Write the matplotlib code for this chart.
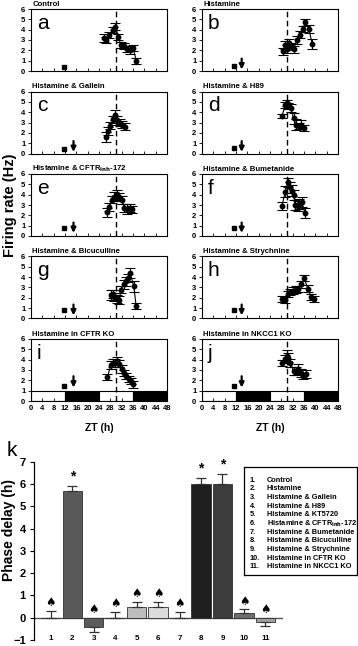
import matplotlib
matplotlib.use("Agg")
import matplotlib.pyplot as plt
import numpy as np

plt.rcParams['font.family'] = ['Liberation Sans', 'DejaVu Sans']
plt.rcParams['font.weight'] = 'bold'

# ---------------- time-series data (ZT hours, firing rate Hz, SEM) -------------
titles = ["Control", "Histamine", "Histamine & Gallein", "Histamine & H89",
          r"Histamine & CFTR$_{\mathbf{inh}}$-172", "Histamine & Bumetanide",
          "Histamine & Bicuculline", "Histamine & Strychnine",
          "Histamine in CFTR KO", "Histamine in NKCC1 KO"]
letters = ["a", "b", "c", "d", "e", "f", "g", "h", "i", "j"]

a_x = [25.8, 26.5, 27.5, 29.0, 29.8, 30.8, 31.8, 33.0, 34.0, 35.0, 36.0, 37.2]
a_y = [3.2, 3.0, 3.5, 4.0, 4.3, 3.3, 2.5, 2.4, 2.1, 2.0, 2.2, 1.0]
a_e = [0.4, 0.3, 0.3, 0.3, 0.3, 0.3, 0.3, 0.3, 0.3, 0.4, 0.3, 0.3]

b_x = [28.6, 29.4, 30.0, 30.8, 31.5, 32.3, 33.5, 34.7, 35.5, 36.5, 37.7, 38.9]
b_y = [1.9, 2.5, 2.1, 2.7, 2.4, 2.1, 3.0, 3.5, 4.1, 4.7, 4.1, 2.6]
b_e = [0.35, 0.4, 0.4, 0.4, 0.35, 0.35, 0.35, 0.35, 0.3, 0.3, 0.4, 0.5]

c_x = [26.5, 27.2, 28.0, 29.0, 29.8, 30.5, 31.3, 32.2, 33.2]
c_y = [1.6, 2.2, 2.7, 3.3, 3.7, 3.2, 3.0, 2.8, 2.6]
c_e = [0.45, 0.4, 0.35, 0.35, 0.5, 0.4, 0.35, 0.35, 0.35]

d_x = [28.2, 29.4, 30.0, 30.5, 31.4, 32.3, 33.2, 34.1, 35.0, 36.1]
d_y = [3.6, 4.7, 4.9, 4.6, 4.4, 3.4, 2.8, 2.7, 2.8, 2.5]
d_e = [0.2, 0.3, 0.3, 0.3, 0.4, 0.5, 0.5, 0.3, 0.4, 0.3]

e_x = [27.0, 27.6, 28.6, 29.4, 30.2, 31.0, 32.0, 33.0, 34.0, 34.8, 35.6]
e_y = [2.3, 2.8, 3.5, 3.8, 4.0, 3.8, 3.5, 2.7, 2.6, 2.7, 2.6]
e_e = [0.45, 0.4, 0.35, 0.45, 0.5, 0.4, 0.4, 0.4, 0.5, 0.4, 0.35]

f_x = [28.2, 29.4, 30.2, 31.2, 31.8, 32.3, 32.9, 33.8, 34.4, 35.2, 36.4]
f_y = [2.9, 4.3, 5.2, 4.7, 4.4, 4.0, 3.0, 2.9, 3.1, 3.3, 2.2]
f_e = [0.4, 0.5, 0.45, 0.5, 0.5, 0.5, 0.5, 0.5, 0.5, 0.5, 0.5]

g_x = [28.2, 28.8, 29.4, 30.3, 31.2, 31.8, 32.7, 33.5, 34.4, 35.0, 36.3, 37.1]
g_y = [2.3, 2.4, 2.1, 1.9, 1.8, 2.8, 3.3, 3.6, 3.9, 4.4, 3.1, 1.2]
g_e = [0.5, 0.4, 0.4, 0.4, 0.35, 0.35, 0.4, 0.45, 0.4, 0.45, 0.55, 0.3]

h_x = [28.4, 29.3, 30.2, 31.2, 32.0, 33.2, 34.0, 35.0, 36.1, 37.3, 38.5, 39.5]
h_y = [1.9, 1.8, 2.4, 2.6, 2.7, 2.8, 2.85, 3.3, 3.9, 2.9, 2.1, 1.9]
h_e = [0.3, 0.3, 0.3, 0.3, 0.3, 0.3, 0.3, 0.35, 0.3, 0.3, 0.3, 0.3]

i_x = [27.0, 28.2, 29.0, 29.7, 30.3, 31.1, 32.0, 32.9, 33.6, 34.5, 35.3, 35.9]
i_y = [2.35, 3.5, 3.7, 3.7, 3.9, 3.6, 3.1, 2.7, 2.4, 2.1, 1.9, 1.6]
i_e = [0.3, 0.4, 0.4, 0.4, 0.4, 0.35, 0.35, 0.3, 0.3, 0.3, 0.3, 0.3]

j_x = [28.2, 29.3, 30.0, 30.5, 31.2, 32.3, 33.2, 34.0, 35.0, 35.8, 36.7]
j_y = [3.7, 4.1, 4.4, 4.2, 3.7, 2.9, 2.9, 3.1, 2.7, 2.4, 2.6]
j_e = [0.3, 0.4, 0.5, 0.4, 0.4, 0.4, 0.4, 0.5, 0.4, 0.3, 0.4]

series_x = [a_x, b_x, c_x, d_x, e_x, f_x, g_x, h_x, i_x, j_x]
series_y = [a_y, b_y, c_y, d_y, e_y, f_y, g_y, h_y, i_y, j_y]
series_e = [a_e, b_e, c_e, d_e, e_e, f_e, g_e, h_e, i_e, j_e]

square_x = [11.6, 11.3, 11.6, 11.3, 11.6, 11.3, 11.6, 11.3, 11.6, 11.3]
square_y = [0.4, 0.5, 0.4, 0.5, 0.75, 0.75, 0.8, 0.8, 1.5, 1.5]
arrow_x = [None, 14.0, 15.0, 14.0, 15.0, 14.0, 15.0, 14.0, 15.0, 14.0]
arrow_top = [None, 1.2, 1.2, 1.2, 1.3, 1.3, 1.35, 1.35, 2.4, 2.4]
arrow_bot = [None, 0.15, 0.15, 0.15, 0.3, 0.3, 0.3, 0.3, 1.3, 1.3]

phase_ref = 30
ld_starts = [0, 12, 24, 36]
ld_width = 12
ld_colors = ["white", "black", "white", "black"]

# ---------------- bar chart data ------------------------------------------------
bar_cats = ["1", "2", "3", "4", "5", "6", "7", "8", "9", "10", "11"]
bar_vals = [0.0, 5.69, -0.40, 0.0, 0.49, 0.49, 0.0, 6.02, 6.02, 0.19, -0.21]
bar_errs = [0.30, 0.20, 0.26, 0.27, 0.23, 0.23, 0.27, 0.26, 0.41, 0.18, 0.16]
bar_cols = ["#808080", "#595959", "#5c5c5c", "#808080", "#bdbdbd", "#dcdcdc",
            "#808080", "#1e1e1e", "#3c3c3c", "#6e6e6e", "#a0a0a0"]
bar_sig = ["spade", "star", "spade", "spade", "spade", "spade", "spade",
           "star", "star", "spade", "spade"]
legend_items = ["Control", "Histamine", "Histamine & Gallein", "Histamine & H89",
                "Histamine & KT5720", r"Histamine & CFTR$_{\mathbf{inh}}$-172",
                "Histamine & Bumetanide", "Histamine & Bicuculline",
                "Histamine & Strychnine", "Histamine in CFTR KO",
                "Histamine in NKCC1 KO"]

W, H = 358, 646
fig = plt.figure(figsize=(W / 100, H / 100), dpi=100)

def fx(px):
    return px / W

def fy(py):
    return 1 - py / H

tops = [9, 91.5, 174, 256.5, 339]
ph = 62
lefts = [31, 202]
pw = 136

for k in range(10):
    row, col = k // 2, k % 2
    top = tops[row]
    ax = fig.add_axes([fx(lefts[col]), fy(top + ph), pw / W, ph / H])
    ax.set_xlim(0, 48)
    ax.set_ylim(0, 6)
    if row == 4:
        ax.bar(ld_starts, [1] * 4, width=ld_width, align='edge', color=ld_colors,
               edgecolor='black', linewidth=0.8, zorder=1)
    ax.axvline(phase_ref, color='black', ls=(0, (4, 2.5)), lw=1.0, zorder=2)
    ax.errorbar(series_x[k], series_y[k], yerr=series_e[k], fmt='-o', color='black',
                ms=3.2, lw=0.8, elinewidth=0.8, capsize=3.5, capthick=0.8, zorder=4)
    ax.plot([square_x[k]], [square_y[k]], 's', color='black', ms=2.3, zorder=4)
    if arrow_x[k] is not None:
        ax.annotate('', xy=(arrow_x[k], arrow_bot[k]), xytext=(arrow_x[k], arrow_top[k]),
                    arrowprops=dict(arrowstyle='-|>', color='black', lw=1.6,
                                    mutation_scale=7, shrinkA=0, shrinkB=0))
    ax.text(2.0, 5.55, letters[k], fontsize=15, fontweight='normal', va='top', ha='left')
    ax.set_title(titles[k], loc='left', fontsize=5.6, fontweight='bold', pad=2.5, x=0.01)
    ax.set_yticks(range(0, 7))
    ax.set_xticks(range(0, 49, 4))
    ax.tick_params(axis='y', direction='out', length=2, width=0.6, labelsize=5.5, pad=2)
    ax.tick_params(axis='x', direction='in', length=2, width=0.6, labelsize=5.5, pad=3)
    for lab in ax.get_yticklabels() + ax.get_xticklabels():
        lab.set_fontweight('bold')
    if row != 4:
        ax.set_xticklabels([])
    for s in ax.spines.values():
        s.set_linewidth(0.8)

fig.text(fx(10), fy(205), "Firing rate (Hz)", rotation=90, ha='center', va='center',
         fontsize=10.5, fontweight='bold')
fig.text(fx(99), fy(428), "ZT (h)", ha='center', va='center', fontsize=7.5, fontweight='bold')
fig.text(fx(270), fy(428), "ZT (h)", ha='center', va='center', fontsize=7.5, fontweight='bold')

# ---------------- panel k ---------------------------------------------------------
axk = fig.add_axes([fx(34), fy(640), (283 - 34) / W, (640 - 461.7) / H])
xpos = np.arange(1, 12)
axk.set_xlim(0.22, 11.82)
axk.set_ylim(-1, 7)
axk.bar(xpos, bar_vals, width=0.9, color=bar_cols, edgecolor='#303030', linewidth=0.6,
        zorder=2)
for xi, v, e in zip(xpos, bar_vals, bar_errs):
    sign = -1 if v < 0 else 1
    lower = [[0], [e]] if sign > 0 else [[e], [0]]
    axk.errorbar([xi], [v], yerr=lower, fmt='none', ecolor='#333333', elinewidth=0.9,
                 capsize=3.5, capthick=0.9, zorder=3)
axk.axhline(0, color='#555555', lw=1.0, zorder=1)
for xi, v, e, sg in zip(xpos, bar_vals, bar_errs, bar_sig):
    ytop = max(v, 0) + (e if v >= 0 else 0)
    if sg == "star":
        axk.text(xi, ytop + 0.12, "*", ha='center', va='bottom', fontsize=10,
                 fontweight='bold')
    else:
        base = ytop if v >= 0 else 0
        axk.text(xi, base + 0.08, "\u2660", ha='center', va='bottom', fontsize=8.5,
                 family='DejaVu Sans')
axk.set_xticks(xpos)
axk.set_xticklabels(bar_cats, fontsize=5.8, fontweight='bold')
axk.tick_params(axis='x', length=0, pad=-3.5)
axk.set_yticks(range(-1, 8))
axk.tick_params(axis='y', direction='out', length=3, width=0.8, labelsize=8, pad=3)
for lab in axk.get_yticklabels():
    lab.set_fontweight('bold')
axk.spines['top'].set_visible(False)
axk.spines['right'].set_visible(False)
axk.spines['bottom'].set_visible(False)
axk.spines['left'].set_linewidth(0.9)

fig.text(fx(9), fy(530), "Phase delay (h)", rotation=90, ha='center', va='center',
         fontsize=10, fontweight='bold')
fig.text(fx(7), fy(450), "k", fontsize=15, fontweight='normal', va='center', ha='left')

# legend box
box = fig.add_axes([fx(244), fy(575), (357 - 244) / W, (575 - 467) / H])
box.set_xlim(0, 1)
box.set_ylim(0, 1)
box.set_xticks([])
box.set_yticks([])
for s in box.spines.values():
    s.set_linewidth(0.9)
for idx, item in enumerate(legend_items):
    yy = 1 - (13 + idx * 8.7) / 108
    box.text(0.05, yy, f"{idx + 1}.", fontsize=5.3, fontweight='bold', va='center')
    box.text(0.2, yy, item, fontsize=5.3, fontweight='bold', va='center')

fig.savefig("out.png", dpi=100)
